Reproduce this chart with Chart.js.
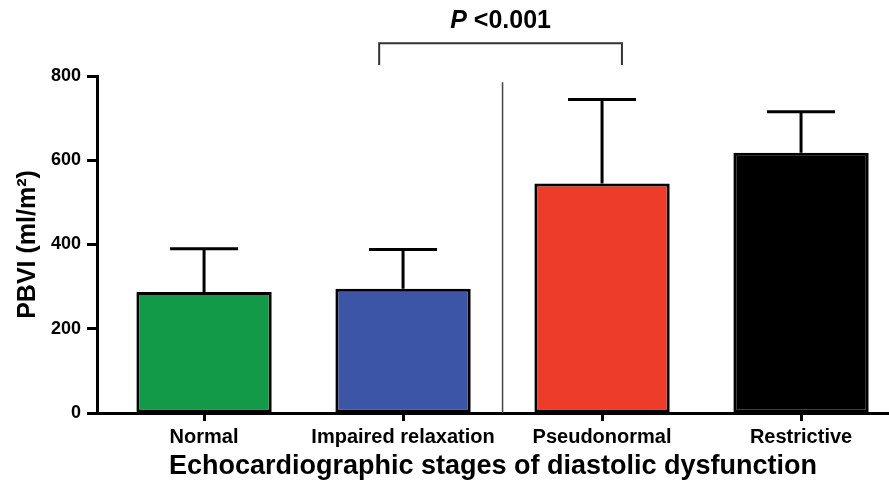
<!DOCTYPE html>
<html>
<head>
<meta charset="utf-8">
<script src="https://cdn.jsdelivr.net/npm/chart.js@4/dist/chart.umd.min.js"></script>
<style>
  html, body { margin: 0; padding: 0; background: #fff; }
  canvas { display: block; }
</style>
</head>
<body>
<canvas id="c" width="889" height="490"></canvas>
<script>
// ---- data ----
const categories = ['Normal', 'Impaired relaxation', 'Pseudonormal', 'Restrictive'];
const meanValues = [287, 295, 545, 618];
const sdValues = [103, 93, 199, 97];
const barColors = ['#129a48', '#3d55a6', '#ee3c2b', '#000000'];
const yTicks = [0, 200, 400, 600, 800];
const yTitle = 'PBVI (ml/m\u00B2)';
const xTitle = 'Echocardiographic stages of diastolic dysfunction';
const pLabelItalic = 'P';
const pLabelRest = ' <0.001';
const bracketX = [0.88, 2.1];     // category positions
const bracketY = [826, 878];      // value units (leg bottom, top)
const pLabelY = 930;
const separatorX = 1.5;
const separatorTop = 785;

const FONT = "'Liberation Sans', Arial, Helvetica, sans-serif";

const annotPlugin = {
  id: 'annot',
  afterDatasetsDraw(chart) {
    const ctx = chart.ctx;
    const xs = chart.scales.x, ys = chart.scales.y;
    const meta = chart.getDatasetMeta(0);
    ctx.save();
    // error bars (upper only)
    ctx.strokeStyle = '#000';
    ctx.lineWidth = 3;
    meta.data.forEach((bar, i) => {
      const x = bar.x;
      const yBase = ys.getPixelForValue(meanValues[i]);
      const yTop = ys.getPixelForValue(meanValues[i] + sdValues[i]);
      ctx.beginPath();
      ctx.moveTo(x, yBase);
      ctx.lineTo(x, yTop);
      ctx.moveTo(x - 34, yTop);
      ctx.lineTo(x + 34, yTop);
      ctx.stroke();
    });
    // separator line
    const sx = xs.getPixelForValue(separatorX);
    ctx.strokeStyle = '#444';
    ctx.lineWidth = 1.5;
    ctx.beginPath();
    ctx.moveTo(sx, ys.getPixelForValue(0));
    ctx.lineTo(sx, ys.getPixelForValue(separatorTop));
    ctx.stroke();
    // bracket
    const bx0 = xs.getPixelForValue(bracketX[0]);
    const bx1 = xs.getPixelForValue(bracketX[1]);
    const by0 = ys.getPixelForValue(bracketY[0]);
    const by1 = ys.getPixelForValue(bracketY[1]);
    ctx.strokeStyle = '#333';
    ctx.lineWidth = 2;
    ctx.beginPath();
    ctx.moveTo(bx0, by0);
    ctx.lineTo(bx0, by1);
    ctx.lineTo(bx1, by1);
    ctx.lineTo(bx1, by0);
    ctx.stroke();
    // p label
    const fItal = 'italic bold 25px ' + FONT;
    const fBold = 'bold 25px ' + FONT;
    ctx.font = fItal;
    const w1 = ctx.measureText(pLabelItalic).width;
    ctx.font = fBold;
    const w2 = ctx.measureText(pLabelRest).width;
    const cx = (bx0 + bx1) / 2;
    const ty = ys.getPixelForValue(pLabelY);
    let tx = cx - (w1 + w2) / 2;
    ctx.fillStyle = '#000';
    ctx.textBaseline = 'middle';
    ctx.textAlign = 'left';
    ctx.font = fItal;
    ctx.fillText(pLabelItalic, tx, ty);
    ctx.font = fBold;
    ctx.fillText(pLabelRest, tx + w1, ty);
    ctx.restore();
  }
};

new Chart(document.getElementById('c'), {
  type: 'bar',
  data: {
    datasets: [{
      data: categories.map((c, i) => ({ x: i, y: meanValues[i] })),
      backgroundColor: barColors,
      borderColor: '#000',
      borderWidth: 3,
      borderSkipped: false,
      categoryPercentage: 1,
      barPercentage: 0.68
    }]
  },
  options: {
    responsive: false,
    devicePixelRatio: 1,
    animation: false,
    layout: { padding: { top: 76, right: 0, bottom: 0, left: 0 } },
    plugins: { legend: { display: false }, tooltip: { enabled: false } },
    scales: {
      x: {
        type: 'linear',
        offset: false,
        min: -0.538,
        max: 3.442,
        afterFit(scale) { scale.height = 77; },
        grid: { offset: false, drawOnChartArea: false, drawTicks: true, tickLength: 8, tickWidth: 3, tickColor: '#000' },
        border: { display: true, width: 3, color: '#000' },
        ticks: {
          stepSize: 1,
          includeBounds: false,
          autoSkip: false,
          maxRotation: 0,
          padding: 4,
          color: '#000',
          font: { family: FONT, size: 20, weight: 'bold' },
          callback: (v) => (Number.isInteger(v) && categories[v] !== undefined) ? categories[v] : ''
        },
        title: {
          display: true,
          text: xTitle,
          color: '#000',
          font: { family: FONT, size: 27, weight: 'bold' },
          padding: { top: 0, bottom: 7 }
        }
      },
      y: {
        min: 0,
        max: 800,
        afterFit(scale) { scale.width = 97; },
        grid: { drawOnChartArea: false, drawTicks: true, tickLength: 10, tickWidth: 3, tickColor: '#000' },
        border: { display: true, width: 3, color: '#000' },
        ticks: {
          stepSize: 200,
          padding: 6,
          color: '#000',
          font: { family: FONT, size: 18, weight: 'bold' },
          callback: (v) => yTicks.includes(v) ? String(v) : ''
        },
        title: {
          display: true,
          text: yTitle,
          color: '#000',
          font: { family: FONT, size: 25, weight: 'bold' },
          padding: { top: 13, bottom: 0 }
        }
      }
    }
  },
  plugins: [annotPlugin]
});
</script>
</body>
</html>
